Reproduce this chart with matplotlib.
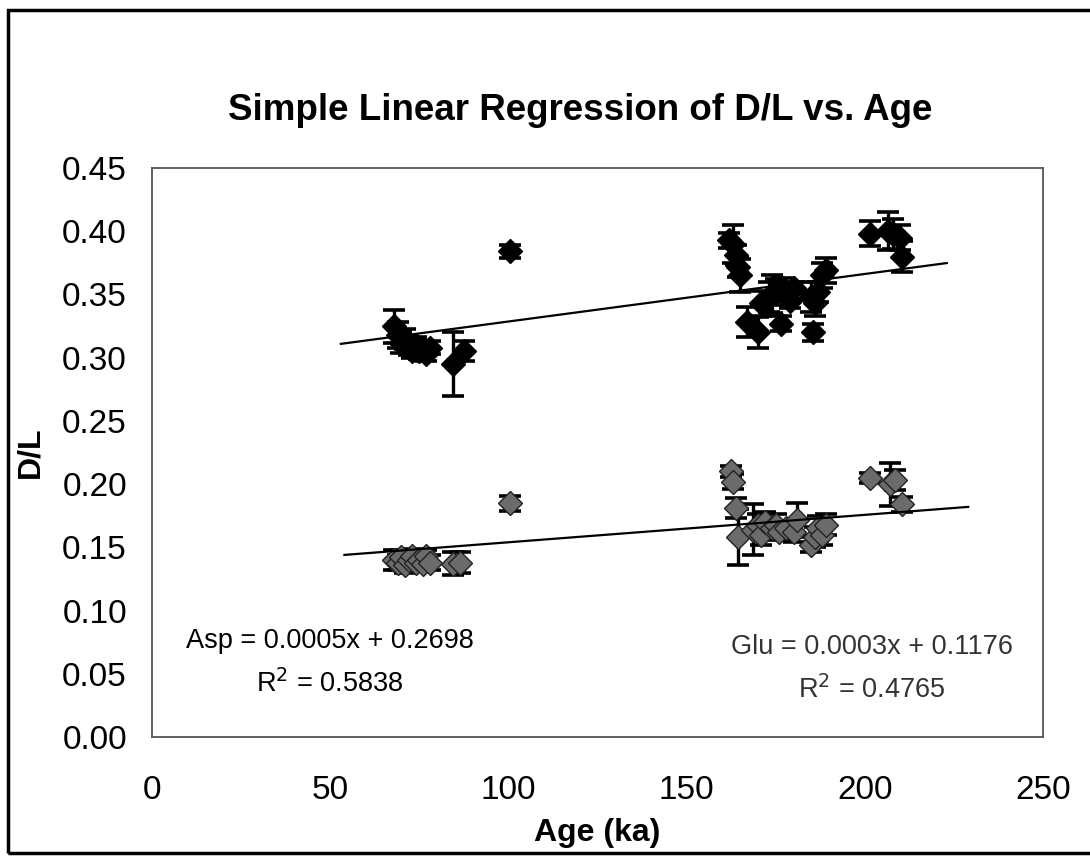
import matplotlib
matplotlib.use("Agg")
from matplotlib import pyplot as plt
from matplotlib.patches import Rectangle
import numpy as np

plt.rcParams['font.family'] = ['Liberation Sans', 'DejaVu Sans']

# Asp D/L values (upper series)
asp_age = [68, 69, 70, 71, 72, 73, 74, 75, 76, 77, 78, 84.5, 87.5, 100.5,
           162, 163, 164, 164.5, 165, 167, 170, 171, 173, 174, 175, 176.5, 177, 178,
           179, 180, 185, 185.5, 186, 187, 188, 189, 201.5, 206.5, 208, 210, 210.5]
asp_dl = [0.325, 0.318, 0.312, 0.315, 0.308, 0.305, 0.310, 0.305, 0.308, 0.303, 0.308,
          0.295, 0.305, 0.384,
          0.393, 0.390, 0.381, 0.372, 0.365, 0.328, 0.320, 0.343, 0.348, 0.350, 0.352,
          0.327, 0.355, 0.350, 0.345, 0.355, 0.348, 0.320, 0.343, 0.352, 0.365, 0.369,
          0.398, 0.400, 0.398, 0.395, 0.380]
asp_err = [0.013, 0.010, 0.008, 0.008, 0.006, 0.005, 0.006, 0.006, 0.005, 0.006, 0.005,
           0.025, 0.008, 0.005,
           0.006, 0.015, 0.008, 0.008, 0.013, 0.012, 0.012, 0.010, 0.012, 0.015, 0.010,
           0.006, 0.008, 0.005, 0.006, 0.005, 0.012, 0.007, 0.010, 0.008, 0.010, 0.010,
           0.010, 0.015, 0.012, 0.010, 0.012]

# Glu D/L values (lower series)
glu_age = [68, 69, 70, 71, 72, 73, 74, 75, 76, 77, 78, 84.5, 86.5, 100.5,
           162.5, 163, 164, 164.5, 168.5, 170, 171, 172, 174, 175, 176, 178, 180, 181,
           185, 186, 187, 188, 189, 201.5, 207, 208.5, 210.5]
glu_dl = [0.140, 0.138, 0.142, 0.136, 0.140, 0.143, 0.138, 0.140, 0.137, 0.143, 0.138,
          0.137, 0.138, 0.185,
          0.210, 0.202, 0.181, 0.158, 0.164, 0.168, 0.160, 0.170, 0.165, 0.168, 0.162,
          0.165, 0.162, 0.172, 0.152, 0.158, 0.165, 0.160, 0.168, 0.205, 0.200, 0.203, 0.184]
glu_err = [0.008, 0.006, 0.006, 0.006, 0.005, 0.006, 0.005, 0.006, 0.005, 0.005, 0.006,
           0.009, 0.008, 0.006,
           0.004, 0.006, 0.008, 0.022, 0.020, 0.008, 0.008, 0.008, 0.006, 0.008, 0.006,
           0.006, 0.008, 0.013, 0.006, 0.008, 0.010, 0.008, 0.008, 0.004, 0.017, 0.008, 0.006]

# trend lines as drawn in the chart (slope, intercept, age range)
asp_fit = (0.000376, 0.291)
glu_fit = (0.000217, 0.1323)
asp_fit_range = (53, 223)
glu_fit_range = (54, 229)

asp_label = "Asp = 0.0005x + 0.2698\nR$^2$ = 0.5838"
glu_label = "Glu = 0.0003x + 0.1176\nR$^2$ = 0.4765"

fig = plt.figure(figsize=(10.9, 8.63), dpi=100)
ax = fig.add_axes([0.1394, 0.146, 0.8175, 0.6593])

# outer chart border
fig.patches.append(Rectangle((8 / 1090, 10 / 863), 1.2, 1 - 20 / 863,
                             transform=fig.transFigure, fill=False,
                             edgecolor='black', linewidth=2.5))

ax.errorbar(asp_age, asp_dl, yerr=asp_err, fmt='D', color='black', ms=12,
            mfc='black', mec='black', ecolor='black', elinewidth=2.4,
            capsize=8, capthick=2.6, zorder=3)
ax.errorbar(glu_age, glu_dl, yerr=glu_err, fmt='D', color='black', ms=12,
            mfc='#6b6b6b', mec='#222222', ecolor='black', elinewidth=2.4,
            capsize=8, capthick=2.6, zorder=3)

for fit, rng in [(asp_fit, asp_fit_range), (glu_fit, glu_fit_range)]:
    xs = np.array(rng)
    ax.plot(xs, fit[0] * xs + fit[1], color='black', linewidth=1.6, zorder=4)

ax.set_xlim(0, 250)
ax.set_ylim(0, 0.45)
ax.set_xticks([0, 50, 100, 150, 200, 250])
ax.set_yticks(np.arange(0, 0.46, 0.05))
ax.set_yticklabels(['%.2f' % v for v in np.arange(0, 0.46, 0.05)])
ax.tick_params(axis='both', length=0, labelsize=24)
ax.tick_params(axis='x', pad=27)
ax.tick_params(axis='y', pad=18)

for s in ax.spines.values():
    s.set_color('#555555')
    s.set_linewidth(1.3)

ax.set_xlabel('Age (ka)', fontsize=23, fontweight='bold')
ax.xaxis.set_label_coords(0.5, -0.142)
ax.set_ylabel('D/L', fontsize=23, fontweight='bold')
ax.yaxis.set_label_coords(-0.12, 0.5)

fig.text(0.532, 0.8725, 'Simple Linear Regression of D/L vs. Age',
         fontsize=26.5, fontweight='bold', ha='center', va='center')

ax.text(50, 0.0585, asp_label, fontsize=19.5, ha='center', va='center',
        linespacing=1.65, color='black')
ax.text(202, 0.0538, glu_label, fontsize=19.5, ha='center', va='center',
        linespacing=1.65, color='#333333')

plt.savefig('out.png', dpi=100)
